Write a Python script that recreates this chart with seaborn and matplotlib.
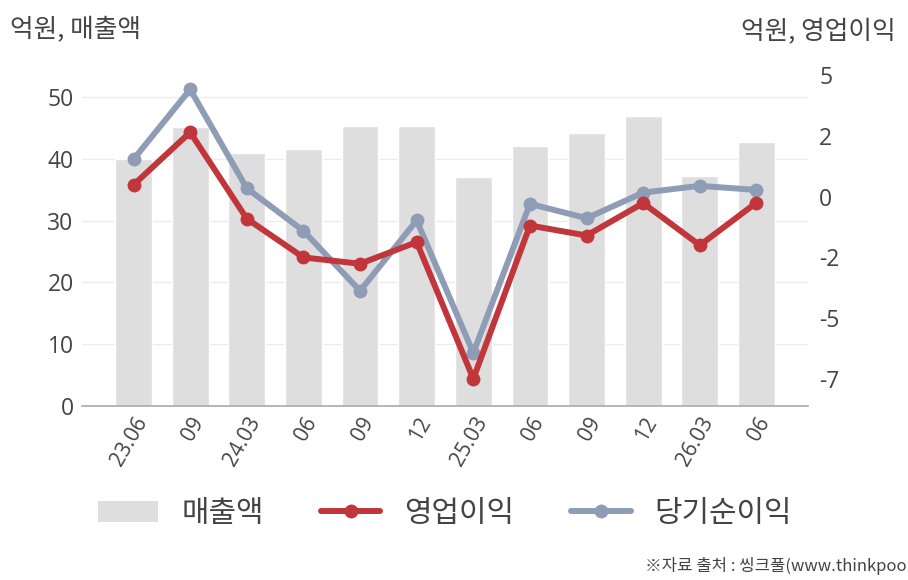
import matplotlib
matplotlib.use("Agg")
import matplotlib.pyplot as plt
import seaborn as sns
import pandas as pd
from matplotlib.patches import Patch
from matplotlib.lines import Line2D
from matplotlib.ticker import FixedLocator

categories = ["23.06", "09", "24.03", "06", "09", "12", "25.03", "06", "09", "12", "26.03", "06"]
sales = [40.0, 45.2, 40.9, 41.6, 45.3, 45.3, 37.1, 42.1, 44.2, 46.9, 37.2, 42.7]
op_income = [0.48, 2.64, -0.91, -2.5, -2.76, -1.87, -7.48, -1.19, -1.6, -0.27, -2.0, -0.25]
net_income = [1.53, 4.4, 0.34, -1.41, -3.87, -0.98, -6.42, -0.3, -0.89, 0.16, 0.44, 0.27]
left_ticks = [0, 10, 20, 30, 40, 50]
right_ticks = [5, 2.5, 0, -2.5, -5, -7.5]
right_labels = ["5", "2", "0", "-2", "-5", "-7"]

sns.set_theme(style="white")
plt.rcParams['font.family'] = ['Noto Sans CJK KR', 'DejaVu Sans']

BAR = "#DEDEDE"
RED = "#C1363A"
BLUE = "#8F9CB6"
TXT = "#444444"

df = pd.DataFrame({"idx": range(len(categories)), "cat": categories, "sales": sales,
                   "op": op_income, "net": net_income})

fig = plt.figure(figsize=(9.08, 5.80), dpi=100)
W, H = 908, 580
ax1 = fig.add_axes([82 / W, 1 - 406 / H, (808 - 82) / W, (406 - 66) / H])
sns.barplot(data=df, x="idx", y="sales", color=BAR, width=0.65, ax=ax1,
            saturation=1, zorder=2)
ax1.set_xlim(-0.91, 11.91)
ax1.set_ylim(0, 55.0)
ax1.yaxis.set_major_locator(FixedLocator(left_ticks))
ax1.grid(axis="y", color="#EBEBEB", linewidth=1, zorder=0)
ax1.set_axisbelow(True)
ax1.set_xticks(range(len(categories)))
ax1.set_xticklabels(categories, rotation=60, ha="right", rotation_mode="anchor",
                    fontsize=15, color=TXT, family=['Open Sans', 'DejaVu Sans'])
ax1.tick_params(axis="y", labelsize=16.5, labelcolor=TXT, length=0, pad=6)
ax1.tick_params(axis="x", length=0, pad=5)
for lab in ax1.get_yticklabels():
    lab.set_family(['Open Sans', 'DejaVu Sans'])
ax1.set_xlabel("")
ax1.set_ylabel("")
for s in ["top", "right", "left"]:
    ax1.spines[s].set_visible(False)
ax1.spines["bottom"].set_color("#AAAAAA")
ax1.spines["bottom"].set_linewidth(1.2)

ax2 = ax1.twinx()
sns.lineplot(data=df, x="idx", y="net", color=BLUE, linewidth=4.3, marker="o",
             markersize=10, markeredgewidth=0, ax=ax2, zorder=3)
sns.lineplot(data=df, x="idx", y="op", color=RED, linewidth=4.3, marker="o",
             markersize=10, markeredgewidth=0, ax=ax2, zorder=4)
ax2.set_ylim(-8.6, 5.36)
ax2.set_xlim(-0.91, 11.91)
ax2.yaxis.set_major_locator(FixedLocator(right_ticks))
ax2.set_yticklabels(right_labels, family=['Open Sans', 'DejaVu Sans'])
ax2.tick_params(axis="y", labelsize=16.5, labelcolor=TXT, length=0, pad=8)
ax2.grid(False)
ax2.set_xlabel("")
ax2.set_ylabel("")
for s in ["top", "right", "left", "bottom"]:
    ax2.spines[s].set_visible(False)

fig.text(10 / W, 1 - 29 / H, "억원, 매출액", fontsize=18.5, color=TXT, va="center", ha="left")
fig.text(896 / W, 1 - 32 / H, "억원, 영업이익", fontsize=18.5, color=TXT, va="center", ha="right")

handles = [
    Patch(facecolor=BAR, edgecolor="none"),
    Line2D([0], [0], color=RED, linewidth=4.3, marker="o", markersize=10, markeredgewidth=0),
    Line2D([0], [0], color=BLUE, linewidth=4.3, marker="o", markersize=10, markeredgewidth=0),
]
fig.legend(handles, ["매출액", "영업이익", "당기순이익"], loc="center",
           bbox_to_anchor=(445 / W, 1 - 513 / H), ncol=3, frameon=False,
           fontsize=21.5, labelcolor=TXT, handlelength=2.0, handleheight=0.7,
           columnspacing=1.9, handletextpad=0.8)

fig.text(645 / W, 1 - 566 / H, "※자료 출처 : 씽크풀(www.thinkpool.com)", fontsize=12,
         color=TXT, va="center", ha="left")

fig.savefig("out.png", dpi=100)
